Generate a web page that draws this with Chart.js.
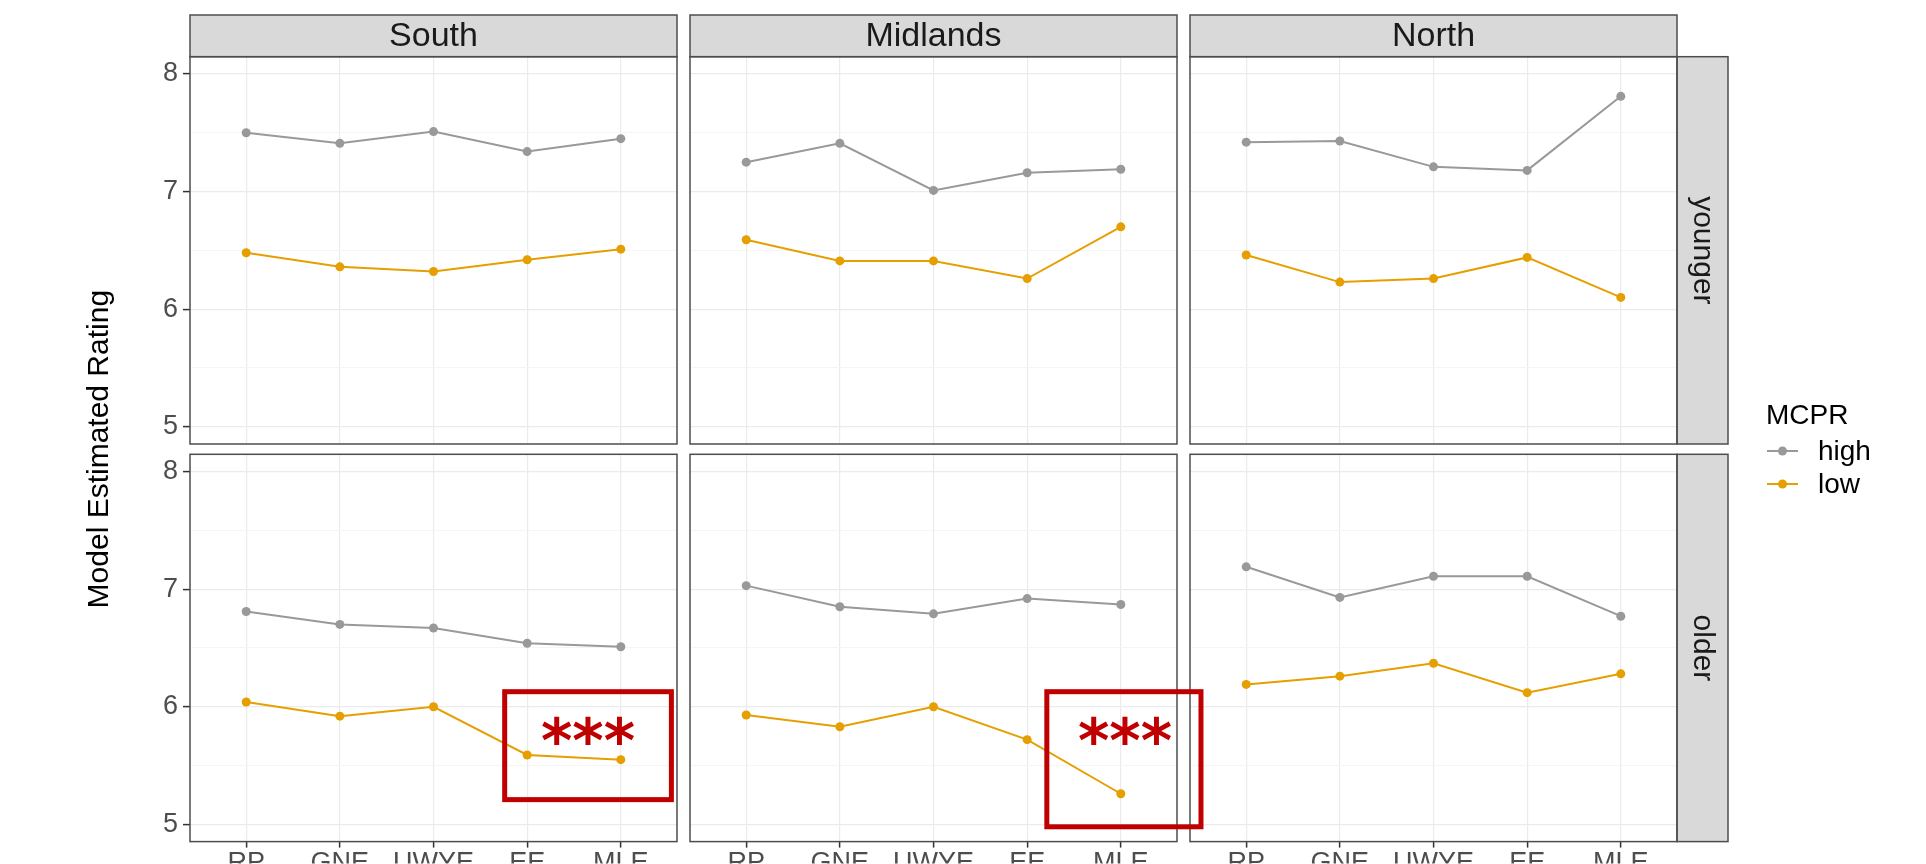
<!DOCTYPE html>
<html>
<head>
<meta charset="utf-8">
<title>Model Estimated Rating by region, age group and MCPR</title>
<script src="https://cdn.jsdelivr.net/npm/chart.js@4.4.1/dist/chart.umd.min.js"></script>
<style>
  html, body { margin: 0; padding: 0; background: #ffffff; }
  #stage { position: relative; width: 1926px; height: 864px; overflow: hidden; background: #ffffff; }
  #stage canvas { position: absolute; left: 0; top: 0; }
</style>
</head>
<body>
<div id="stage"></div>
<script>
// ---- data -------------------------------------------------------------
const categories = ['RP', 'GNE', 'UWYE', 'EE', 'MLE'];
const regions = ['South', 'Midlands', 'North'];
const ageGroups = ['younger', 'older'];
const mcprLevels = ['high', 'low'];

const southYoungerHigh    = [7.50, 7.41, 7.51, 7.34, 7.45];
const southYoungerLow     = [6.48, 6.36, 6.32, 6.42, 6.51];
const midlandsYoungerHigh = [7.25, 7.41, 7.01, 7.16, 7.19];
const midlandsYoungerLow  = [6.59, 6.41, 6.41, 6.26, 6.70];
const northYoungerHigh    = [7.42, 7.43, 7.21, 7.18, 7.81];
const northYoungerLow     = [6.46, 6.23, 6.26, 6.44, 6.10];

const southOlderHigh      = [6.81, 6.70, 6.67, 6.54, 6.51];
const southOlderLow       = [6.04, 5.92, 6.00, 5.59, 5.55];
const midlandsOlderHigh   = [7.03, 6.85, 6.79, 6.92, 6.87];
const midlandsOlderLow    = [5.93, 5.83, 6.00, 5.72, 5.26];
const northOlderHigh      = [7.19, 6.93, 7.11, 7.11, 6.77];
const northOlderLow       = [6.19, 6.26, 6.37, 6.12, 6.28];

const yTickValues = [5, 5.5, 6, 6.5, 7, 7.5, 8];
const yAxisTitle = 'Model Estimated Rating';
const legendTitle = 'MCPR';
const significanceMark = '***';

// ---- styling / layout ----------------------------------------------------
const W = 1926, H = 864;
const COL_LEFT = [190, 690, 1190];
const PANEL_W = 487;
const ROW_TOP = [56.7, 454.3];
const PANEL_H = 387.3;
const STRIP_H = 41.7;
const RSTRIP_W = 51;
const Y_MIN = 4.853, Y_MAX = 8.147;
const X_MIN = -0.6, X_MAX = 4.6;
const FONT = '"Liberation Sans", Arial, Helvetica, sans-serif';
const COLORS = { high: '#999999', low: '#E69F00' };
const FLAG_RED = '#C00000';

const seriesTable = {
  South:    { younger: [southYoungerHigh, southYoungerLow],       older: [southOlderHigh, southOlderLow] },
  Midlands: { younger: [midlandsYoungerHigh, midlandsYoungerLow], older: [midlandsOlderHigh, midlandsOlderLow] },
  North:    { younger: [northYoungerHigh, northYoungerLow],       older: [northOlderHigh, northOlderLow] }
};

// significance flags: box and label placed in the panel's data coordinates
const flags = {
  'South|older':    { box: [2.76, 4.54, 6.128, 5.21], label: [3.65, 5.80] },
  'Midlands|older': { box: [3.21, 4.856, 6.128, 4.979], label: [4.045, 5.80] }
};

// ---- facet decorations (strips, border, titles, legend, flags) -----------
function makeDecor(o) {
  return {
    id: 'facetDecor',
    afterDraw(chart) {
      const { ctx, chartArea: a } = chart;
      ctx.save();

      // top strip (region)
      if (o.colStrip) {
        ctx.fillStyle = '#D9D9D9';
        ctx.fillRect(a.left, a.top - STRIP_H, a.width, STRIP_H);
        ctx.strokeStyle = '#4d4d4d';
        ctx.lineWidth = 1.5;
        ctx.strokeRect(a.left, a.top - STRIP_H, a.width, STRIP_H);
        ctx.fillStyle = '#1A1A1A';
        ctx.font = '34px ' + FONT;
        ctx.textAlign = 'center';
        ctx.textBaseline = 'middle';
        ctx.fillText(o.colStrip, (a.left + a.right) / 2, a.top - STRIP_H / 2 + 1);
      }

      // right strip (age group)
      if (o.rowStrip) {
        ctx.fillStyle = '#D9D9D9';
        ctx.fillRect(a.right, a.top, RSTRIP_W, a.height);
        ctx.strokeStyle = '#4d4d4d';
        ctx.lineWidth = 1.5;
        ctx.strokeRect(a.right, a.top, RSTRIP_W, a.height);
        ctx.save();
        ctx.translate(a.right + RSTRIP_W / 2, (a.top + a.bottom) / 2);
        ctx.rotate(Math.PI / 2);
        ctx.fillStyle = '#1A1A1A';
        ctx.font = '30px ' + FONT;
        ctx.textAlign = 'center';
        ctx.textBaseline = 'middle';
        ctx.fillText(o.rowStrip, 0, 0);
        ctx.restore();
      }

      // panel border
      ctx.strokeStyle = '#4d4d4d';
      ctx.lineWidth = 1.5;
      ctx.strokeRect(a.left, a.top, a.width, a.height);

      // shared y-axis title
      if (o.yTitle) {
        ctx.save();
        ctx.translate(100, (ROW_TOP[0] + ROW_TOP[1] + PANEL_H) / 2);
        ctx.rotate(-Math.PI / 2);
        ctx.fillStyle = '#000000';
        ctx.font = '30px ' + FONT;
        ctx.textAlign = 'center';
        ctx.textBaseline = 'middle';
        ctx.fillText(yAxisTitle, 0, 0);
        ctx.restore();
      }

      // legend
      if (o.legend) {
        const lx = 1766, ty = 416;
        ctx.fillStyle = '#000000';
        ctx.font = '28px ' + FONT;
        ctx.textAlign = 'left';
        ctx.textBaseline = 'middle';
        ctx.fillText(legendTitle, lx, ty);
        chart.data.datasets.forEach((ds, i) => {
          const y = 451 + i * 33;
          ctx.strokeStyle = ds.borderColor;
          ctx.lineWidth = 2;
          ctx.beginPath();
          ctx.moveTo(lx + 1, y);
          ctx.lineTo(lx + 32, y);
          ctx.stroke();
          ctx.fillStyle = ds.borderColor;
          ctx.beginPath();
          ctx.arc(lx + 16.5, y, 4.5, 0, Math.PI * 2);
          ctx.fill();
          ctx.fillStyle = '#000000';
          ctx.font = '28px ' + FONT;
          ctx.fillText(ds.label, lx + 52, y + 1);
        });
      }

      // significance box
      if (o.flag) {
        const xs = chart.scales.x, ys = chart.scales.y;
        const [x0, x1, y0, y1] = o.flag.box;
        const px0 = xs.getPixelForValue(x0), px1 = xs.getPixelForValue(x1);
        const py0 = ys.getPixelForValue(y0), py1 = ys.getPixelForValue(y1);
        ctx.strokeStyle = FLAG_RED;
        ctx.lineWidth = 5;
        ctx.strokeRect(px0, py0, px1 - px0, py1 - py0);
        ctx.fillStyle = FLAG_RED;
        ctx.font = 'bold 60px "DejaVu Sans", ' + FONT;
        ctx.textAlign = 'center';
        ctx.textBaseline = 'alphabetic';
        const m = ctx.measureText(significanceMark);
        const cx = xs.getPixelForValue(o.flag.label[0]);
        const cy = ys.getPixelForValue(o.flag.label[1]);
        const base = cy + (m.actualBoundingBoxAscent - m.actualBoundingBoxDescent) / 2;
        ctx.fillText(significanceMark, cx, base);
      }
      ctx.restore();
    }
  };
}

// ---- build one chart per facet ------------------------------------------
const stage = document.getElementById('stage');
let z = 1;
ageGroups.forEach((age, r) => {
  regions.forEach((region, c) => {
    const left = COL_LEFT[c];
    const top = ROW_TOP[r];
    const yAxisW = c === 0 ? 60 : 0;
    const xAxisH = r === 1 ? 22 : 0;
    const key = region + '|' + age;

    const canvas = document.createElement('canvas');
    canvas.width = W;
    canvas.height = H;
    canvas.style.zIndex = flags[key] ? 50 : z++;
    stage.appendChild(canvas);

    const values = seriesTable[region][age];
    const datasets = mcprLevels.map((level, i) => ({
      label: level,
      data: values[i].map((v, j) => ({ x: j, y: v })),
      borderColor: COLORS[level],
      backgroundColor: COLORS[level],
      pointBackgroundColor: COLORS[level],
      pointBorderWidth: 0,
      pointRadius: 4.5,
      borderWidth: 2,
      tension: 0
    }));

    const facet = {
      colStrip: r === 0 ? region : null,
      rowStrip: c === regions.length - 1 ? age : null,
      yTitle: r === 1 && c === 0,
      legend: r === 0 && c === regions.length - 1,
      flag: flags[key] || null
    };

    new Chart(canvas, {
      type: 'line',
      data: { datasets },
      options: {
        responsive: false,
        animation: false,
        events: [],
        layout: {
          padding: {
            left: left - yAxisW,
            right: W - (left + PANEL_W),
            top: top,
            bottom: H - (top + PANEL_H) - xAxisH
          }
        },
        plugins: { legend: { display: false }, tooltip: { enabled: false } },
        scales: {
          x: {
            type: 'linear',
            min: X_MIN,
            max: X_MAX,
            afterBuildTicks: s => { s.ticks = categories.map((_, i) => ({ value: i })); },
            afterFit: s => { s.height = xAxisH; },
            border: { display: false },
            grid: {
              color: '#EBEBEB',
              lineWidth: 1.2,
              drawTicks: r === 1,
              tickLength: 6,
              tickColor: '#333333',
              tickWidth: 1.5
            },
            ticks: {
              display: r === 1,
              autoSkip: false,
              maxRotation: 0,
              padding: 0,
              color: '#4D4D4D',
              font: { family: FONT, size: 27 },
              callback: v => categories[v] ?? ''
            }
          },
          y: {
            type: 'linear',
            min: Y_MIN,
            max: Y_MAX,
            afterBuildTicks: s => { s.ticks = yTickValues.map(v => ({ value: v })); },
            afterFit: s => { s.width = yAxisW; },
            border: { display: false },
            grid: {
              color: t => (t.tick && Number.isInteger(t.tick.value)) ? '#EBEBEB' : '#F5F5F5',
              lineWidth: t => (t.tick && Number.isInteger(t.tick.value)) ? 1.2 : 1,
              drawTicks: c === 0,
              tickLength: 7,
              tickColor: t => (t.tick && Number.isInteger(t.tick.value)) ? '#333333' : 'rgba(0,0,0,0)',
              tickWidth: 1.5
            },
            ticks: {
              display: c === 0,
              autoSkip: false,
              padding: 5,
              color: '#4D4D4D',
              font: { family: FONT, size: 27 },
              callback: v => Number.isInteger(v) ? String(v) : ''
            }
          }
        }
      },
      plugins: [makeDecor(facet)]
    });
  });
});
</script>
</body>
</html>
